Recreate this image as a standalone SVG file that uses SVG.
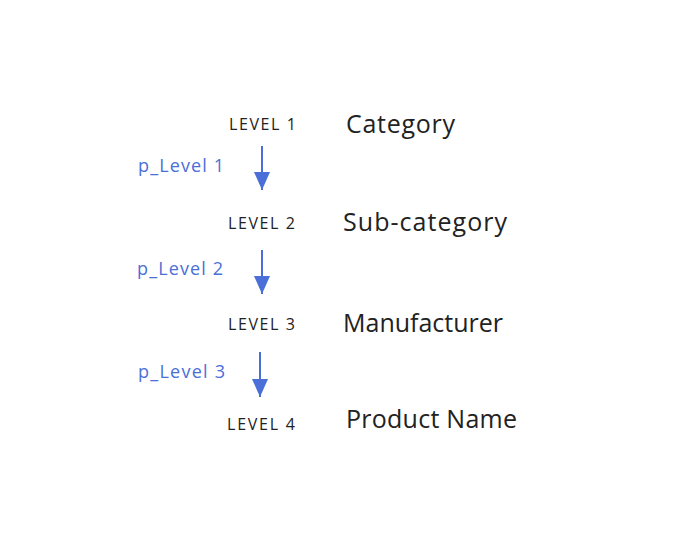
<svg xmlns="http://www.w3.org/2000/svg" width="677" height="543" viewBox="0 0 677 543">
<defs>
<style>
.lvl{font-family:"Open Sans",Lato,sans-serif;font-size:16px;fill:#222}
.name{font-family:"Open Sans",Lato,sans-serif;font-size:25px;fill:#222}
.plabel{font-family:"Open Sans",Lato,sans-serif;font-size:18px;fill:#4a6fd8}
.conn{stroke:#4a6fd8;stroke-width:2;fill:none}
</style>
<marker id="ah2" viewBox="0 0 18 16" refX="18" refY="8" markerWidth="18" markerHeight="16" markerUnits="userSpaceOnUse" orient="auto">
<path d="M0,0 L18,8 L0,16 Z" fill="#4a6fd8"/>
</marker>
</defs>
<rect width="677" height="543" fill="#fff"/>
<g id="level1"><text class="lvl" x="229" y="130" textLength="67">LEVEL 1</text><text class="name" x="346" y="133" textLength="109">Category</text></g>
<g id="level2"><text class="lvl" x="228" y="229" textLength="67">LEVEL 2</text><text class="name" x="343" y="231" textLength="164">Sub-category</text></g>
<g id="level3"><text class="lvl" x="228" y="330" textLength="67">LEVEL 3</text><text class="name" x="343" y="332" textLength="160">Manufacturer</text></g>
<g id="level4"><text class="lvl" x="227" y="430" textLength="68">LEVEL 4</text><text class="name" x="346" y="428" textLength="171">Product Name</text></g>
<g id="connectors">
<line class="conn" x1="262" y1="146" x2="262" y2="190" marker-end="url(#ah2)"/>
<line class="conn" x1="262" y1="250" x2="262" y2="294" marker-end="url(#ah2)"/>
<line class="conn" x1="260" y1="352" x2="260" y2="397" marker-end="url(#ah2)"/>
<text class="plabel" x="138" y="172" textLength="86">p_Level 1</text>
<text class="plabel" x="137" y="275" textLength="86">p_Level 2</text>
<text class="plabel" x="138" y="378" textLength="87">p_Level 3</text>
</g>
</svg>
